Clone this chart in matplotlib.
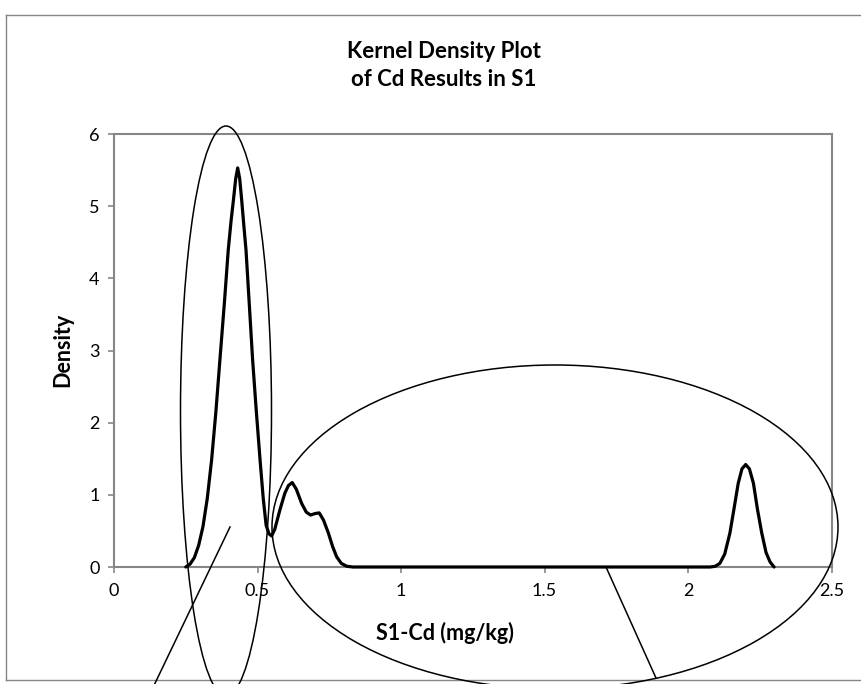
import matplotlib
matplotlib.use("Agg")
import matplotlib.pyplot as plt
from matplotlib.patches import Ellipse
from matplotlib.lines import Line2D

# ---- data ----
cd_values = [0.250, 0.265, 0.280, 0.295, 0.310, 0.325, 0.340, 0.355, 0.369, 0.385,
             0.398, 0.408, 0.416, 0.424, 0.431, 0.438, 0.445, 0.452, 0.460, 0.472,
             0.483, 0.496, 0.509, 0.520, 0.530, 0.540, 0.549, 0.560, 0.578, 0.595,
             0.608, 0.621, 0.635, 0.654, 0.670, 0.685, 0.700, 0.715, 0.730, 0.747,
             0.762, 0.776, 0.792, 0.811, 0.833, 1.000, 1.500, 2.077, 2.095, 2.111,
             2.128, 2.146, 2.160, 2.175, 2.188, 2.201, 2.214, 2.228, 2.242, 2.257,
             2.272, 2.286, 2.300]
density = [0.00, 0.04, 0.13, 0.30, 0.56, 0.95, 1.48, 2.15, 2.87, 3.68,
           4.39, 4.80, 5.08, 5.38, 5.53, 5.38, 5.08, 4.75, 4.39, 3.60,
           2.87, 2.15, 1.48, 0.95, 0.58, 0.46, 0.43, 0.52, 0.79, 1.02,
           1.13, 1.17, 1.08, 0.88, 0.76, 0.72, 0.74, 0.75, 0.65, 0.47,
           0.28, 0.14, 0.05, 0.01, 0.00, 0.00, 0.00, 0.00, 0.01, 0.05,
           0.18, 0.47, 0.80, 1.16, 1.36, 1.42, 1.36, 1.16, 0.80, 0.47,
           0.20, 0.07, 0.00]
x_ticks = [0, 0.5, 1, 1.5, 2, 2.5]
x_tick_labels = ["0", "0.5", "1", "1.5", "2", "2.5"]
y_ticks = [0, 1, 2, 3, 4, 5, 6]
y_tick_labels = ["0", "1", "2", "3", "4", "5", "6"]

W, H = 861, 684
FONT = "Lato"
GRAY = "#868686"

fig = plt.figure(figsize=(W / 100, H / 100), dpi=100)
fig.patch.set_facecolor("white")

def fx(px):
    return px / W

def fy(py):
    return 1 - py / H

# outer chart frame
for (x0, y0, x1, y1) in [(6, 15, 870, 15), (6, 15, 6, 680), (6, 680, 870, 680)]:
    fig.add_artist(Line2D([fx(x0), fx(x1)], [fy(y0), fy(y1)], color=GRAY,
                          lw=1.0, transform=fig.transFigure))

ax = fig.add_axes([fx(114), fy(567), fx(831.5) - fx(114), fy(134) - fy(567)])
ax.plot(cd_values, density, color="black", lw=2.3, solid_joinstyle="round",
        solid_capstyle="round", clip_on=False, zorder=5)
ax.set_xlim(0, 2.5)
ax.set_ylim(0, 6)
ax.set_xticks(x_ticks)
ax.set_xticklabels(x_tick_labels)
ax.set_yticks(y_ticks)
ax.set_yticklabels(y_tick_labels)
for sp in ax.spines.values():
    sp.set_color(GRAY)
    sp.set_linewidth(1.5)
ax.tick_params(axis="both", direction="out", length=4.5, width=1.2, color=GRAY,
               labelsize=13, labelcolor="black")
ax.tick_params(axis="x", pad=7)
ax.tick_params(axis="y", pad=6)
for lab in ax.get_xticklabels() + ax.get_yticklabels():
    lab.set_family(FONT)

fig.text(fx(444), fy(52), "Kernel Density Plot", ha="center", va="center",
         fontsize=16, fontweight="bold", family=FONT)
fig.text(fx(444), fy(80), "of Cd Results in S1", ha="center", va="center",
         fontsize=16, fontweight="bold", family=FONT)
fig.text(fx(63), fy(350), "Density", ha="center", va="center", rotation=90,
         fontsize=15.5, fontweight="bold", family=FONT)
fig.text(fx(445), fy(633), "S1-Cd (mg/kg)", ha="center", va="center",
         fontsize=15.5, fontweight="bold", family=FONT)

# annotation shapes (figure pixel coordinates)
e1 = Ellipse((fx(226), fy(411)), fx(91), 570 / H, fill=False, ec="black", lw=1.1,
             transform=fig.transFigure, zorder=10)
e2 = Ellipse((fx(555), fy(527)), fx(566), 324 / H, fill=False, ec="black", lw=1.1,
             transform=fig.transFigure, zorder=10)
fig.add_artist(e1)
fig.add_artist(e2)
fig.add_artist(Line2D([fx(230), fx(147)], [fy(527), fy(700)], color="black", lw=1.1,
                      transform=fig.transFigure, zorder=10))
fig.add_artist(Line2D([fx(606), fx(656)], [fy(567), fy(678)], color="black", lw=1.1,
                      transform=fig.transFigure, zorder=10))

fig.savefig("out.png", dpi=100, facecolor="white")
